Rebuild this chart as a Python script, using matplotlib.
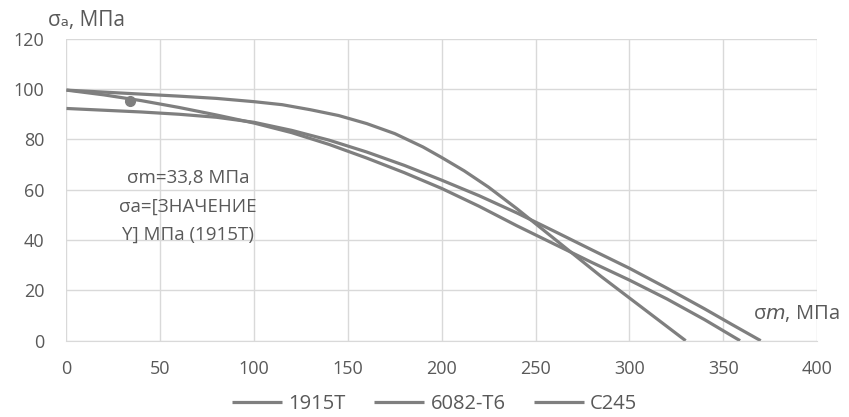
import matplotlib
matplotlib.use("Agg")
import matplotlib.pyplot as plt

plt.rcParams['font.family'] = ['Open Sans', 'DejaVu Sans']
plt.rcParams['mathtext.fontset'] = 'dejavusans'

x_1915 = [0, 20, 40, 60, 80, 100, 120, 140, 160, 180, 200, 220, 240, 260, 280, 300, 320, 340, 359]
y_1915 = [99.6, 97.7, 95.4, 92.7, 89.7, 86.5, 82.7, 78.0, 72.6, 66.8, 60.5, 53.4, 45.7, 38.4, 31.1, 24.1, 16.6, 8.4, 0]

x_6082 = [0, 20, 40, 60, 80, 100, 115, 130, 145, 160, 175, 190, 200, 212, 225, 240, 255, 270, 285, 300, 315, 330]
y_6082 = [99.6, 98.8, 98.0, 97.2, 96.3, 95.0, 93.8, 91.8, 89.5, 86.3, 82.3, 77.0, 72.8, 67.5, 61.0, 52.5, 43.5, 34.5, 25.5, 17.0, 8.5, 0]

x_c245 = [0, 20, 40, 60, 80, 100, 120, 140, 160, 180, 200, 220, 240, 260, 280, 300, 320, 340, 355, 370]
y_c245 = [92.3, 91.6, 90.9, 90.0, 88.8, 86.8, 83.6, 79.7, 75.0, 69.7, 63.8, 57.6, 50.8, 43.5, 36.1, 28.8, 20.9, 12.7, 6.3, 0]

point_x, point_y = 33.8, 95.2
labels = ["1915T", "6082-T6", "C245"]

grey = "#7f7f7f"
txt = "#595959"

fig = plt.figure(figsize=(8.49, 4.17), dpi=100)
ax = fig.add_axes([0.0783, 0.183, 0.884, 0.724])

ax.plot(x_1915, y_1915, color=grey, lw=2.3, label=labels[0], solid_capstyle='butt')
ax.plot(x_6082, y_6082, color=grey, lw=2.3, label=labels[1], solid_capstyle='butt')
ax.plot(x_c245, y_c245, color=grey, lw=2.3, label=labels[2], solid_capstyle='butt')
ax.plot([point_x], [point_y], 'o', color=grey, ms=7)

ax.set_xlim(0, 400)
ax.set_ylim(0, 120)
ax.set_xticks(range(0, 401, 50))
ax.set_yticks(range(0, 121, 20))
ax.grid(True, color="#d9d9d9", lw=1)
ax.set_axisbelow(True)
for s in ['top', 'right', 'left']:
    ax.spines[s].set_visible(False)
ax.spines['bottom'].set_color("#d9d9d9")
ax.tick_params(length=0, labelsize=13, colors=txt)
ax.tick_params(axis='y', pad=16)
ax.tick_params(axis='x', pad=14)

ax.text(64.8, 53.3, "σm=33,8 МПа\nσa=[ЗНАЧЕНИЕ\nY] МПа (1915T)", ha='center', va='center',
        fontsize=13.5, color=txt, linespacing=1.75)

ax.text(-0.025, 1.025, "σₐ, МПа", transform=ax.transAxes, ha='left', va='bottom',
        fontsize=15, color=txt)
ax.text(366, 11, "σ$m$, МПа", ha='left', va='center', fontsize=14.5, color=txt, clip_on=False)

fig.legend(loc='center', bbox_to_anchor=(0.512, 0.031), ncol=3, frameon=False,
           fontsize=14.5, labelcolor=txt, handlelength=2.5, handletextpad=0.3,
           columnspacing=1.4)

fig.savefig("out.png", dpi=100)
